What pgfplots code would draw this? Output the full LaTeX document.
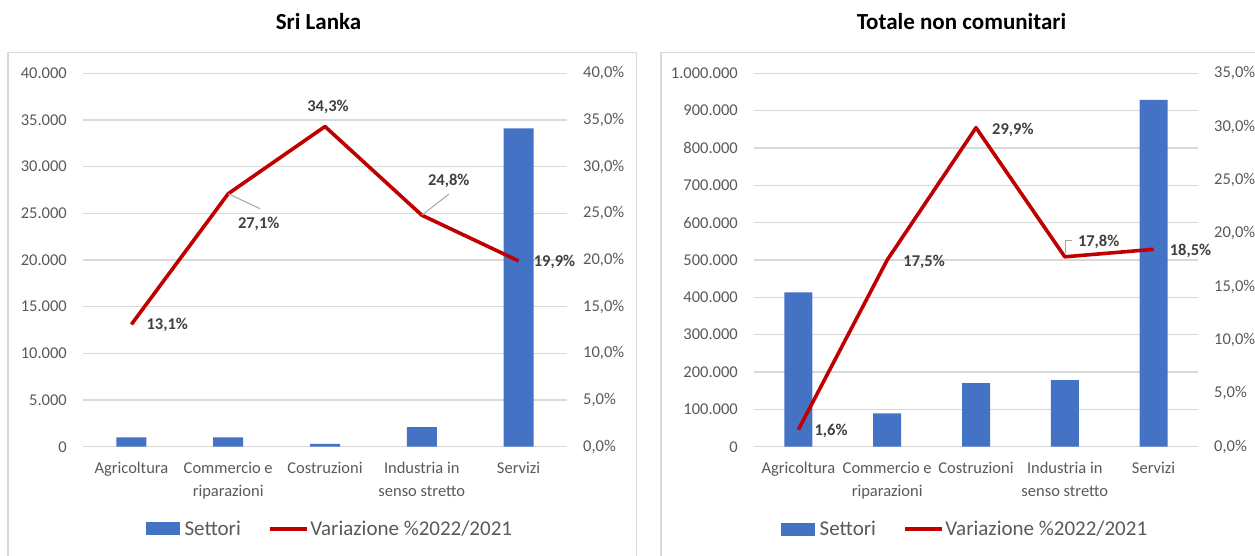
\documentclass[border=0pt]{standalone}
\usepackage{pgfplots}
\pgfplotsset{compat=1.18}
\usepackage{fontspec}
\setmainfont{Carlito}
\definecolor{barblue}{HTML}{4472C4}
\definecolor{linered}{HTML}{C00000}
\definecolor{gridgray}{HTML}{D9D9D9}
\definecolor{tickgray}{HTML}{595959}
\definecolor{labgray}{HTML}{404040}
\newcommand{\tickfont}{\fontsize{16.5}{22.5}\selectfont}
\newcommand{\legfont}{\fontsize{21}{25}\selectfont}
\newcommand{\labfont}{\fontsize{16.5}{20}\selectfont\bfseries}
\newcommand{\titfont}{\fontsize{23}{27}\selectfont\bfseries}

\tikzset{
  lab/.style={font=\labfont, text=labgray, inner sep=0pt},
  lead/.style={draw=gray!70, line width=1pt}
}
\pgfplotsset{
  /pgf/number format/assume math mode=true,
  base/.style={scale only axis, height=373.4pt, anchor=south west,
    xmin=-0.5, xmax=4.5, ymin=0, axis line style={draw=none},
    tick style={draw=none}, clip=false},
  barax/.style={base, ybar, ymajorgrids,
    grid style={gridgray, line width=1.3pt},
    xtick={0,1,2,3,4},
    xticklabels={Agricoltura,{Commercio e\\riparazioni},Costruzioni,{Industria in\\senso stretto},Servizi},
    xticklabel style={font=\tickfont, text=tickgray, align=center, anchor=north, inner sep=0pt, yshift=-11pt},
    yticklabel style={font=\tickfont, text=tickgray, anchor=east, inner sep=0pt, xshift=-16pt},
    scaled y ticks=false,
    yticklabel={\pgfmathprintnumber[fixed,1000 sep={.}]{\tick}},
    legend columns=2,
    legend style={draw=none, fill=none, font=\legfont, text=tickgray, anchor=center,
      nodes={inner sep=1.5pt},
      /tikz/every even column/.append style={column sep=26pt}},
    legend cell align=left},
  lineax/.style={base, xtick=\empty,
    yticklabel pos=right,
    yticklabel style={font=\tickfont, text=tickgray, anchor=west, inner sep=0pt, xshift=16pt},
    yticklabel={\pgfmathprintnumber[fixed,fixed zerofill,precision=1,use comma]{\tick}\%}}
}

\begin{document}
\begin{tikzpicture}
\path[use as bounding box] (0,0) rectangle (1255pt,555pt);
% panel frames
\draw[gridgray, line width=1.3pt] (8pt,-5pt) -- (8pt,502.3pt) -- (636.7pt,502.3pt) -- (636.7pt,-5pt);
\draw[gridgray, line width=1.3pt] (661pt,-5pt) -- (661pt,502.3pt) -- (1262pt,502.3pt);
% titles
\node[font=\titfont] at (318.5pt,533pt) {Sri Lanka};
\node[font=\titfont] at (961.5pt,533pt) {Totale non comunitari};

% ---------------- Sri Lanka ----------------
\begin{axis}[barax, at={(83pt,108.3pt)}, width=484pt, bar width=30pt,
  ymax=40000, ytick={0,5000,10000,15000,20000,25000,30000,35000,40000},
  legend style={at={(0.51,-0.2204)}}]
\addplot[fill=barblue, draw=none,
  legend image code/.code={\fill[barblue] (0pt,-6.5pt) rectangle (34pt,6.5pt); \path (37pt,0pt);}]
  coordinates {(0,1000) (1,1000) (2,300) (3,2100) (4,34100)};
\addlegendentry{Settori}
\addlegendimage{legend image code/.code={\draw[linered, line width=3.5pt] (0pt,0pt) -- (37pt,0pt);}}
\addlegendentry{Variazione \%2022/2021}
\end{axis}
\begin{axis}[lineax, at={(83pt,108.3pt)}, width=484pt,
  ymax=40, ytick={0,5,10,15,20,25,30,35,40}]
\addplot[linered, line width=3.6pt, line join=round, mark=none]
  coordinates {(0,13.1) (1,27.1) (2,34.3) (3,24.8) (4,19.9)};
\node[lab, anchor=west, xshift=15pt, yshift=-1pt] at (axis cs:0,13.1) {13,1\%};
\draw[lead] (axis cs:1,27.1) -- ++(32pt,-15pt);
\node[lab, xshift=30.5pt, yshift=-30pt] at (axis cs:1,27.1) {27,1\%};
\node[lab, xshift=3pt, yshift=20pt] at (axis cs:2,34.3) {34,3\%};
\draw[lead] (axis cs:3,24.8) -- ++(27pt,21pt);
\node[lab, xshift=27pt, yshift=34.5pt] at (axis cs:3,24.8) {24,8\%};
\node[lab, anchor=west, xshift=15pt, yshift=-1pt] at (axis cs:4,19.9) {19,9\%};
\end{axis}

% ---------------- Totale non comunitari ----------------
\begin{axis}[barax, at={(754pt,108.3pt)}, width=444pt, bar width=28pt,
  ymax=1000000, ytick={0,100000,200000,300000,400000,500000,600000,700000,800000,900000,1000000},
  legend style={at={(0.475,-0.2204)}}]
\addplot[fill=barblue, draw=none,
  legend image code/.code={\fill[barblue] (0pt,-6.5pt) rectangle (34pt,6.5pt); \path (37pt,0pt);}]
  coordinates {(0,413500) (1,89500) (2,170000) (3,178600) (4,928500)};
\addlegendentry{Settori}
\addlegendimage{legend image code/.code={\draw[linered, line width=3.5pt] (0pt,0pt) -- (37pt,0pt);}}
\addlegendentry{Variazione \%2022/2021}
\end{axis}
\begin{axis}[lineax, at={(754pt,108.3pt)}, width=444pt,
  ymax=35, ytick={0,5,10,15,20,25,30,35}]
\addplot[linered, line width=3.6pt, line join=round, mark=none]
  coordinates {(0,1.6) (1,17.5) (2,29.9) (3,17.8) (4,18.5)};
\node[lab, anchor=west, xshift=16pt, yshift=-1pt] at (axis cs:0,1.6) {1,6\%};
\node[lab, anchor=west, xshift=16pt, yshift=-2pt] at (axis cs:1,17.5) {17,5\%};
\node[lab, anchor=west, xshift=16pt, yshift=-2pt] at (axis cs:2,29.9) {29,9\%};
\draw[lead] (axis cs:3,17.8) ++(1pt,4pt) -- ++(0pt,12pt) -- ++(6pt,0pt);
\node[lab, anchor=west, xshift=13pt, yshift=15pt] at (axis cs:3,17.8) {17,8\%};
\node[lab, anchor=west, xshift=16pt, yshift=-2pt] at (axis cs:4,18.5) {18,5\%};
\end{axis}
\end{tikzpicture}
\end{document}
